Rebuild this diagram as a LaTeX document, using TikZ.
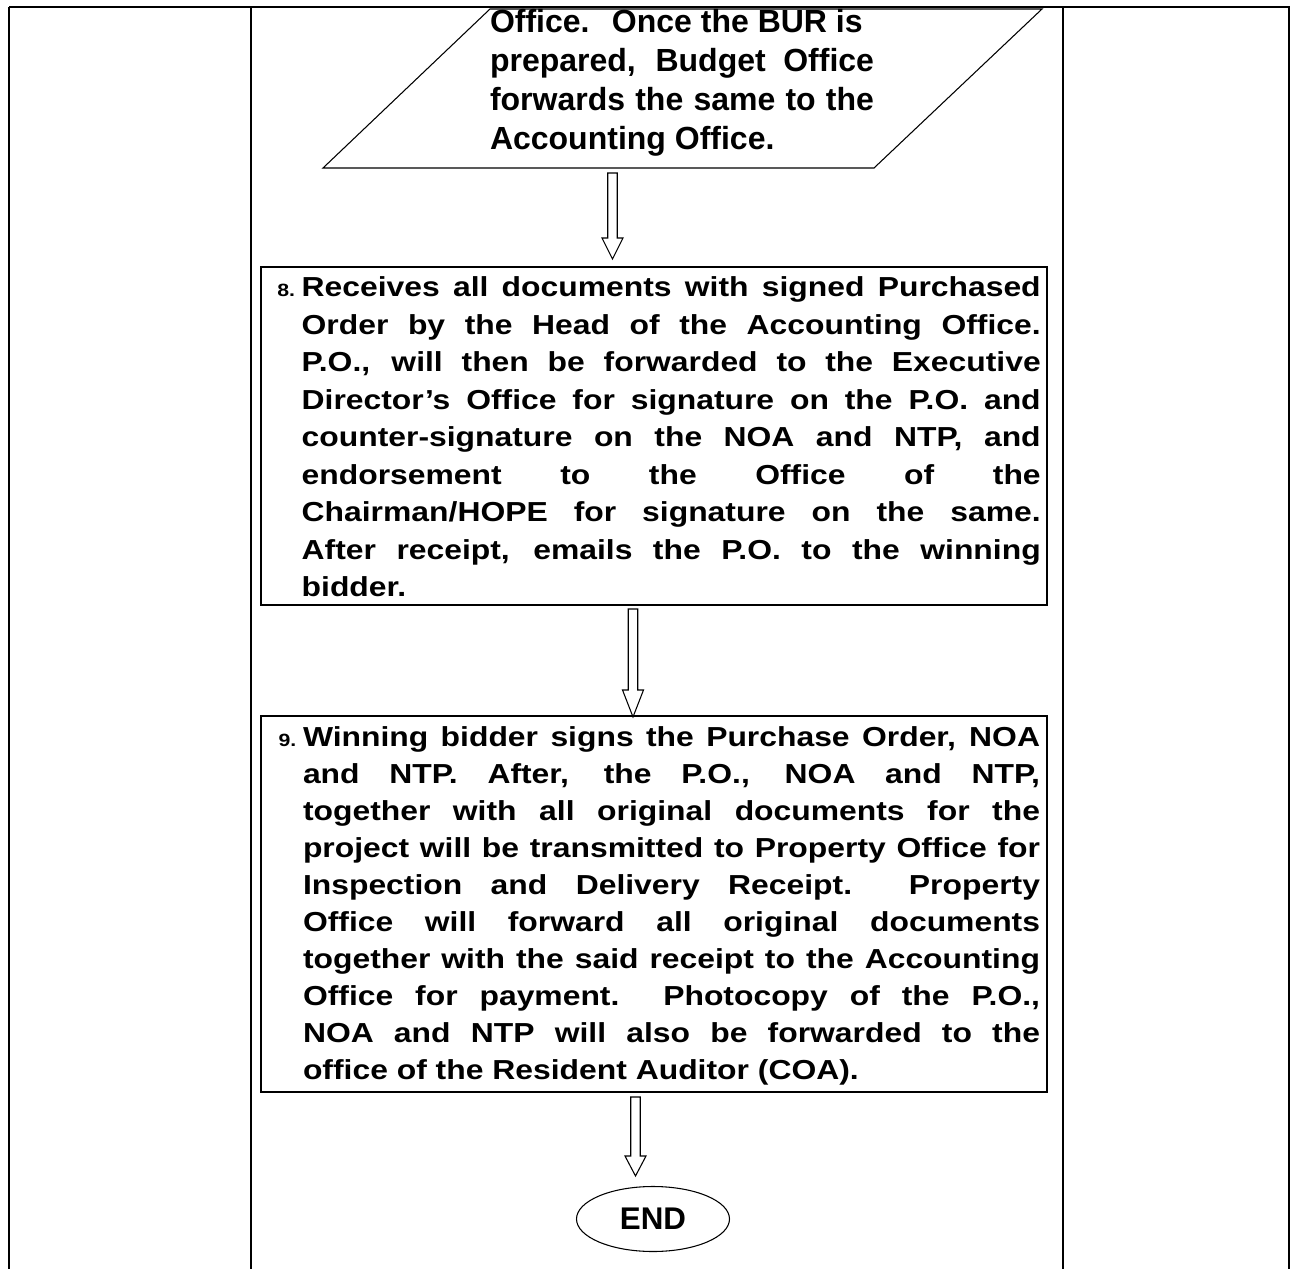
\documentclass[tikz,border=0pt]{standalone}
\usepackage{fontspec}
\setmainfont{Liberation Sans}
\newfontfamily\boxfont{Liberation Sans Bold}[FakeStretch=1.16]
\newfontfamily\numfont{Liberation Sans Bold}[FakeStretch=1.2]
\newfontfamily\parafont{Liberation Sans Bold}
\usetikzlibrary{calc,shapes.geometric}
\tolerance=10000 \hbadness=10000 \hfuzz=20pt
\tikzset{
  tableline/.style={line width=1.6pt},
  stepbox/.style={draw, line width=1.5pt, rectangle, inner sep=0pt, outer sep=0pt, anchor=north west},
  thinline/.style={draw, line width=0.8pt},
  hollow/.style={draw, line width=0.8pt, fill=white, line join=miter},
  boxtext/.style={inner sep=0pt, outer sep=0pt, anchor=base west, align=justify},
}
\newcommand\myblockarrow[3]{%
  \draw[hollow] ($(#1)+(-4.75,0)$) -- ($(#1)+(4.75,0)$) -- ($(#2)+(4.75,-#3)$) -- ($(#2)+(10.5,-#3)$) -- (#2) -- ($(#2)+(-10.5,-#3)$) -- ($(#2)+(-4.75,-#3)$) -- cycle;}
\begin{document}
\begin{tikzpicture}[x=0.75pt,y=-0.75pt]
\useasboundingbox (0,0) rectangle (1292,1269);
% table
\draw[tableline] (9,7) -- (1290,7);
\draw[tableline] (9,7) -- (9,1269);
\draw[tableline] (251,7) -- (251,1269);
\draw[tableline] (1063,7) -- (1063,1269);
\draw[tableline] (1289,7) -- (1289,1269);
% parallelogram
\coordinate (p1) at (490,9);
\coordinate (p2) at (1042,9);
\coordinate (p3) at (874,168);
\coordinate (p4) at (323,168);
\draw[thinline] (p1) -- (p2) -- (p3) -- (p4) -- cycle;
\node[boxtext, text width=288pt, font={\parafont\fontsize{24pt}{29.25pt}\selectfont}] (ptext) at (490,33) {%
Office.\hspace{0.7em}Once the BUR is\\
prepared, Budget Office\linebreak
forwards the same to the\linebreak
Accounting Office.};
% box 8
\node[stepbox, minimum width=786*0.75pt, minimum height=338*0.75pt] (b8) at (261,267) {};
\node[boxtext, text width=554.25pt, font={\boxfont\fontsize{20.6pt}{28.1pt}\selectfont}] (t8) at (301.7,297) {%
\llap{\numfont\fontsize{13.3pt}{13pt}\selectfont 8.\hspace{5pt}}Receives all documents with signed Purchased\linebreak
Order by the Head of the Accounting Office.\linebreak
P.O., will then be forwarded to the Executive\linebreak
Director’s Office for signature on the P.O. and\linebreak
counter-signature on the NOA and NTP, and\linebreak
endorsement to the Office of the\linebreak
Chairman/HOPE for signature on the same.\linebreak
After receipt, emails the P.O. to the winning\linebreak
bidder.};
% box 9
\node[stepbox, minimum width=786*0.75pt, minimum height=376*0.75pt] (b9) at (261,716) {};
\node[boxtext, text width=552.75pt, font={\boxfont\fontsize{20.6pt}{27.75pt}\selectfont}] (t9) at (303,746) {%
\llap{\numfont\fontsize{13.3pt}{13pt}\selectfont 9.\hspace{5pt}}Winning bidder signs the Purchase Order, NOA\linebreak
and NTP. After, the P.O., NOA and NTP,\linebreak
together with all original documents for the\linebreak
project will be transmitted to Property Office for\linebreak
Inspection and Delivery Receipt.\ \ Property\linebreak
Office will forward all original documents\linebreak
together with the said receipt to the Accounting\linebreak
Office for payment.\ \ Photocopy of the P.O.,\linebreak
NOA and NTP will also be forwarded to the\linebreak
office of the Resident Auditor (COA).};
% end
\node[ellipse, draw, line width=0.8pt, minimum width=153*0.75pt, minimum height=65*0.75pt, inner sep=0pt, font={\parafont\fontsize{23.5pt}{24pt}\selectfont}] (end) at (653,1219) {END};
% arrows
\coordinate (a1s) at (612.5,173);
\coordinate (a1e) at (612.5,259);
\coordinate (a2s) at (633,609);
\coordinate (a2e) at (633,717);
\coordinate (a3s) at (635.5,1097);
\coordinate (a3e) at (635.5,1176);
\myblockarrow{a1s}{a1e}{21}
\myblockarrow{a2s}{a2e}{27}
\myblockarrow{a3s}{a3e}{20}
\end{tikzpicture}
\end{document}
